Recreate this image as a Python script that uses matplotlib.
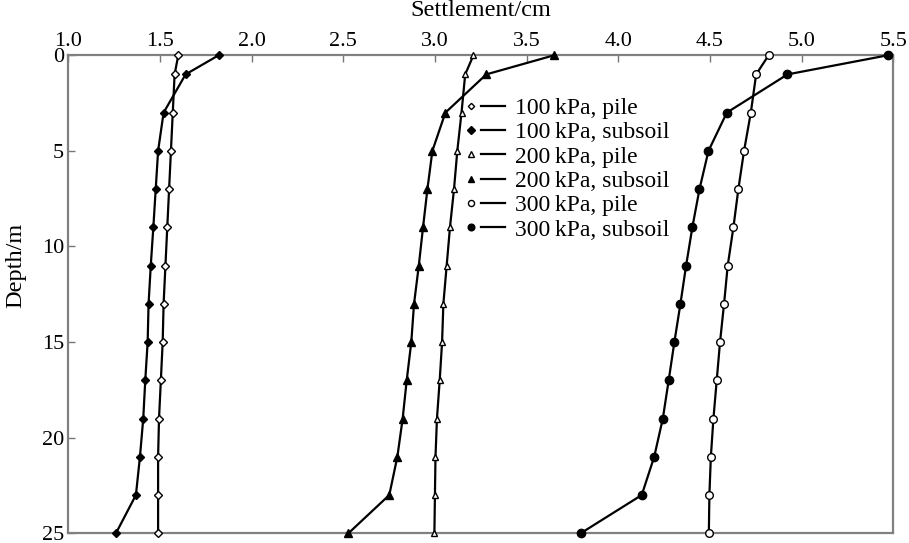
import numpy as np
import matplotlib
matplotlib.use("Agg")
import matplotlib.pyplot as plt
from matplotlib.legend_handler import HandlerLine2DCompound

plt.rcParams['font.family'] = ['Liberation Serif', 'DejaVu Serif']
plt.rcParams['font.size'] = 16

# depth below ground surface (m)
depth = [0, 1, 3, 5, 7, 9, 11, 13, 15, 17, 19, 21, 23, 25]

# settlement (cm) along pile and surrounding subsoil for each load level
pile_100 = [1.60, 1.58, 1.57, 1.56, 1.55, 1.54, 1.53, 1.52, 1.515, 1.505, 1.495, 1.49, 1.49, 1.49]
soil_100 = [1.82, 1.64, 1.52, 1.49, 1.477, 1.464, 1.45, 1.438, 1.433, 1.42, 1.409, 1.391, 1.369, 1.26]
pile_200 = [3.21, 3.165, 3.145, 3.122, 3.104, 3.082, 3.064, 3.046, 3.039, 3.026, 3.011, 3.003, 3.0, 2.997]
soil_200 = [3.65, 3.28, 3.057, 2.986, 2.959, 2.935, 2.912, 2.886, 2.871, 2.846, 2.824, 2.795, 2.751, 2.528]
pile_300 = [4.82, 4.752, 4.723, 4.686, 4.655, 4.628, 4.597, 4.577, 4.555, 4.537, 4.519, 4.505, 4.497, 4.494]
soil_300 = [5.47, 4.923, 4.592, 4.492, 4.443, 4.404, 4.37, 4.339, 4.306, 4.275, 4.243, 4.196, 4.128, 3.795]

labels = ['100\u2009kPa, pile', '100\u2009kPa, subsoil',
          '200\u2009kPa, pile', '200\u2009kPa, subsoil',
          '300\u2009kPa, pile', '300\u2009kPa, subsoil']

x_ticks = [1.0, 1.5, 2.0, 2.5, 3.0, 3.5, 4.0, 4.5, 5.0, 5.5]
y_ticks = [0, 5, 10, 15, 20, 25]


class MarkerLeftHandler(HandlerLine2DCompound):
    """Legend handle with the marker at the left end, then a short line."""
    def get_xdata(self, legend, xdescent, ydescent, width, height, fontsize):
        xdata = np.array([-xdescent + 0.32 * width, -xdescent + width])
        xdata_marker = np.array([-xdescent + 0.05 * width])
        return xdata, xdata_marker


fig = plt.figure(figsize=(9.09, 5.43), dpi=100)
ax = fig.add_axes([0.0751, 0.0179, 0.9076, 0.8803])

series = [
    (pile_100, 'D', 'white', 4.0),
    (soil_100, 'D', 'black', 4.5),
    (pile_200, '^', 'white', 5.0),
    (soil_200, '^', 'black', 5.5),
    (pile_300, 'o', 'white', 5.5),
    (soil_300, 'o', 'black', 6.0),
]

handles = []
for vals, mk, fc, ms in series:
    ln, = ax.plot(vals, depth, color='black', lw=1.6, marker=mk, ms=ms,
                  mfc=fc, mec='black', mew=1.0, clip_on=False, zorder=3)
    handles.append(ln)

ax.set_xlim(1.0, 5.5)
ax.set_ylim(25, 0)
ax.set_xticks(x_ticks)
ax.set_xticklabels([f'{t:.1f}' for t in x_ticks])
ax.set_yticks(y_ticks)

ax.xaxis.tick_top()
ax.xaxis.set_label_position('top')
ax.set_xlabel('Settlement/cm', fontsize=17.5)
ax.set_ylabel('Depth/m', fontsize=17.5)
ax.xaxis.set_label_coords(0.4996, 1.082)
ax.yaxis.set_label_coords(-0.051, 0.561)

ax.tick_params(direction='in', length=5, width=1.0, color='#777777',
               labelsize=16, pad=3)
for sp in ax.spines.values():
    sp.set_color('#808080')
    sp.set_linewidth(1.6)

leg = ax.legend(handles, labels, loc='upper left', bbox_to_anchor=(0.486, 0.912),
                frameon=False, fontsize=17, handlelength=1.5, handletextpad=0.45,
                labelspacing=0.12, borderpad=0, borderaxespad=0, markerscale=0.8,
                handler_map={h: MarkerLeftHandler() for h in handles})

fig.savefig('out.png', dpi=100)
